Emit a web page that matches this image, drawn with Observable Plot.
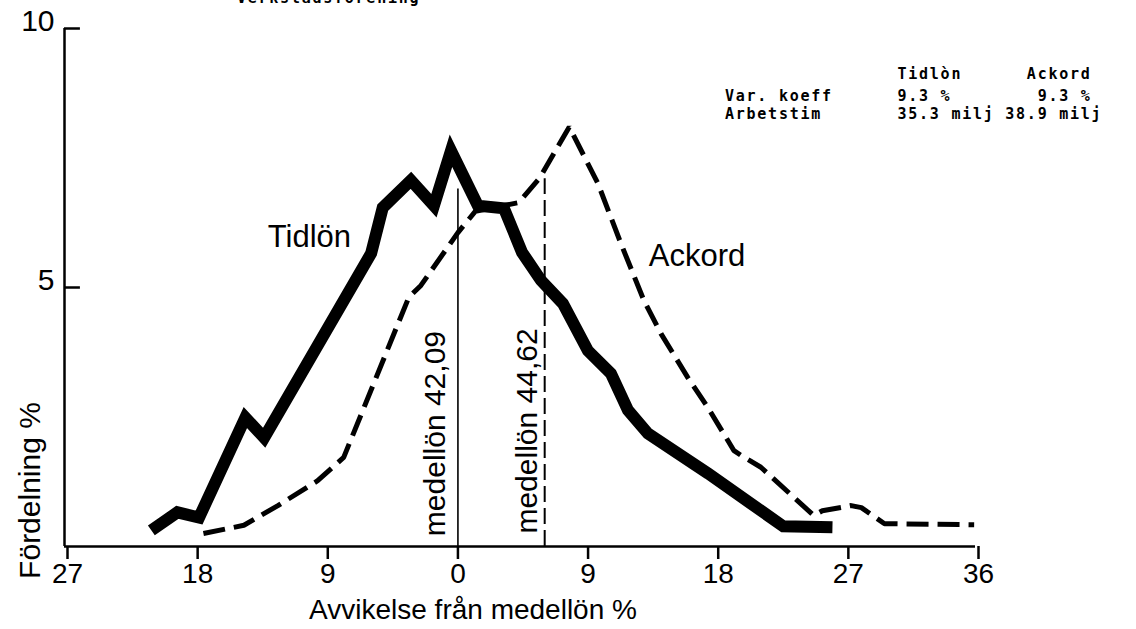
<!DOCTYPE html>
<html><head><meta charset="utf-8">
<script src="https://cdn.jsdelivr.net/npm/d3@7"></script>
<script src="https://cdn.jsdelivr.net/npm/@observablehq/plot@0.6"></script>
<style>
html,body{margin:0;padding:0;background:#fff;}
#wrap{position:relative;width:1136px;height:629px;overflow:hidden;}
#wrap svg{display:block;}
.mono{position:absolute;font-family:'DejaVu Sans Mono','Liberation Mono',monospace;font-weight:bold;font-size:15px;letter-spacing:1.75px;line-height:15px;color:#000;white-space:pre;}
</style></head><body>
<div id="wrap"></div>
<script>
// Tidlön (solid thick)
const tidlonX = [-21.2, -19.4, -17.9, -14.7, -13.4, -6.0, -5.2, -3.25, -1.66, -0.48, 1.38, 3.18, 4.43, 5.74, 7.26, 8.99, 10.58, 11.76, 13.14, 17.3, 22.5, 25.9];
const tidlonY = [0.31, 0.66, 0.56, 2.49, 2.10, 5.66, 6.54, 7.07, 6.58, 7.64, 6.58, 6.53, 5.68, 5.14, 4.69, 3.78, 3.34, 2.63, 2.18, 1.41, 0.39, 0.37];
// Ackord (dashed)
const ackordX = [-17.6, -14.8, -12.45, -9.7, -7.9, -3.4, -2.56, 0, 1.2, 4.2, 5.67, 7.7, 9.68, 11.27, 12.86, 14.04, 15.9, 17.29, 19.09, 19.57, 20.95, 24.6, 25.2, 27.2, 27.9, 29.5, 35.7];
const ackordY = [0.25, 0.41, 0.79, 1.27, 1.72, 4.81, 5.04, 6.06, 6.47, 6.64, 7.12, 8.1, 7.01, 5.85, 4.75, 4.11, 3.26, 2.68, 1.85, 1.76, 1.53, 0.6, 0.69, 0.79, 0.75, 0.44, 0.42];
// mean-wage reference lines
const meanX = [0, 6.0];
const meanTop = [6.9, 7.1];
const meanLabels = ["medellön 42,09", "medellön 44,62"];
// axes
const xTicks = [-27, -18, -9, 0, 9, 18, 27, 36];
const xTickLabels = ["27", "18", "9", "0", "9", "18", "27", "36"];
const yTicks = [5, 10];
const yTickLabels = ["5", "10"];
const xTitle = "Avvikelse från medellön %";
const yTitle = "Fördelning %";
const seriesNames = ["Tidlön", "Ackord"];
const seriesLabelX = [-13.15, 13.2];
const seriesLabelY = [5.97, 5.6];
// stats table
const statHeader = ["Tidlòn", "Ackord"];
const statRows = ["Var. koeff", "Arbetstim"];
const varKoeff = ["9.3 %", "9.3 %"];
const arbetstim = ["35.3 milj", "38.9 milj"];
const topTitle = "Verkstadsförening";

const tidlon = tidlonX.map((x, i) => ({x, y: tidlonY[i]}));
const ackord = ackordX.map((x, i) => ({x, y: ackordY[i]}));
const means = meanX.map((x, i) => ({x, top: meanTop[i], label: meanLabels[i]}));
const seriesLabels = seriesNames.map((s, i) => ({s, x: seriesLabelX[i], y: seriesLabelY[i]}));
const yt = yTicks.map((v, i) => ({v, label: yTickLabels[i]}));

const font = "'Liberation Sans', Arial, Helvetica, sans-serif";
const chart = Plot.plot({
  width: 1136, height: 629,
  marginLeft: 67, marginRight: 158, marginTop: 28, marginBottom: 83,
  x: {domain: [-27, 36], axis: null},
  y: {domain: [0, 10], axis: null},
  style: {fontFamily: font, background: "#fff", color: "#000"},
  marks: [
    // axis lines
    Plot.ruleY([0], {x1: -27, x2: 36, stroke: "#000", strokeWidth: 2.5, dx: -3}),
    Plot.ruleX([-27], {y1: 0, y2: 10, stroke: "#000", strokeWidth: 2.5, dx: -3}),
    Plot.ruleY(yTicks, {x1: -27, x2: -25.9, stroke: "#000", strokeWidth: 2.5, dx: -3}),
    Plot.axisX({ticks: xTicks, tickSize: 13, tickPadding: 4, strokeWidth: 2.5, fontSize: 28, label: null,
      tickFormat: d => xTickLabels[xTicks.indexOf(d)]}),
    Plot.text(yt, {x: -27, y: "v", text: "label", textAnchor: "end", lineAnchor: "middle", dx: -13, dy: -7, fontSize: 30}),
    Plot.text([xTitle], {frameAnchor: "bottom", dx: -50, dy: 64, lineAnchor: "middle", fontSize: 28}),
    Plot.text([yTitle], {frameAnchor: "bottom-left", dx: -37, dy: -56, rotate: -90, textAnchor: "middle", lineAnchor: "middle", fontSize: 30}),
    // mean lines
    Plot.ruleX([means[0]], {x: "x", y1: 0, y2: "top", stroke: "#000", strokeWidth: 1.6}),
    Plot.ruleX([means[1]], {x: "x", y1: 0, y2: "top", stroke: "#000", strokeWidth: 2, strokeDasharray: "16,6"}),
    Plot.text([means[0]], {x: "x", y: 0.2, text: "label", rotate: -90, textAnchor: "start", lineAnchor: "bottom", dx: -13, fontSize: 30}),
    Plot.text([means[1]], {x: "x", y: 0.25, text: "label", rotate: -90, textAnchor: "start", lineAnchor: "bottom", dx: -8, fontSize: 30}),
    // series
    Plot.line(ackord, {x: "x", y: "y", stroke: "#000", strokeWidth: 5, strokeDasharray: "22,9", strokeLinejoin: "miter", strokeLinecap: "butt"}),
    Plot.line(tidlon, {x: "x", y: "y", stroke: "#000", strokeWidth: 12, strokeLinejoin: "miter", strokeMiterlimit: 8, strokeLinecap: "butt"}),
    Plot.text(seriesLabels, {x: "x", y: "y", text: "s", textAnchor: "start", lineAnchor: "middle", fontSize: 31})
  ]
});
const wrap = document.getElementById("wrap");
wrap.appendChild(chart);

function addMono(text, left, top) {
  const d = document.createElement("div");
  d.className = "mono";
  d.textContent = text;
  d.style.left = left + "px";
  d.style.top = top + "px";
  wrap.appendChild(d);
}
addMono(topTitle, 237, -9);
addMono(" ".repeat(16) + statHeader[0] + " ".repeat(6) + statHeader[1], 725, 67);
addMono(statRows[0] + " ".repeat(6) + varKoeff[0] + " ".repeat(8) + varKoeff[1], 725, 89);
addMono(statRows[1] + " ".repeat(7) + arbetstim[0] + " " + arbetstim[1], 725, 107);
</script>
</body></html>
